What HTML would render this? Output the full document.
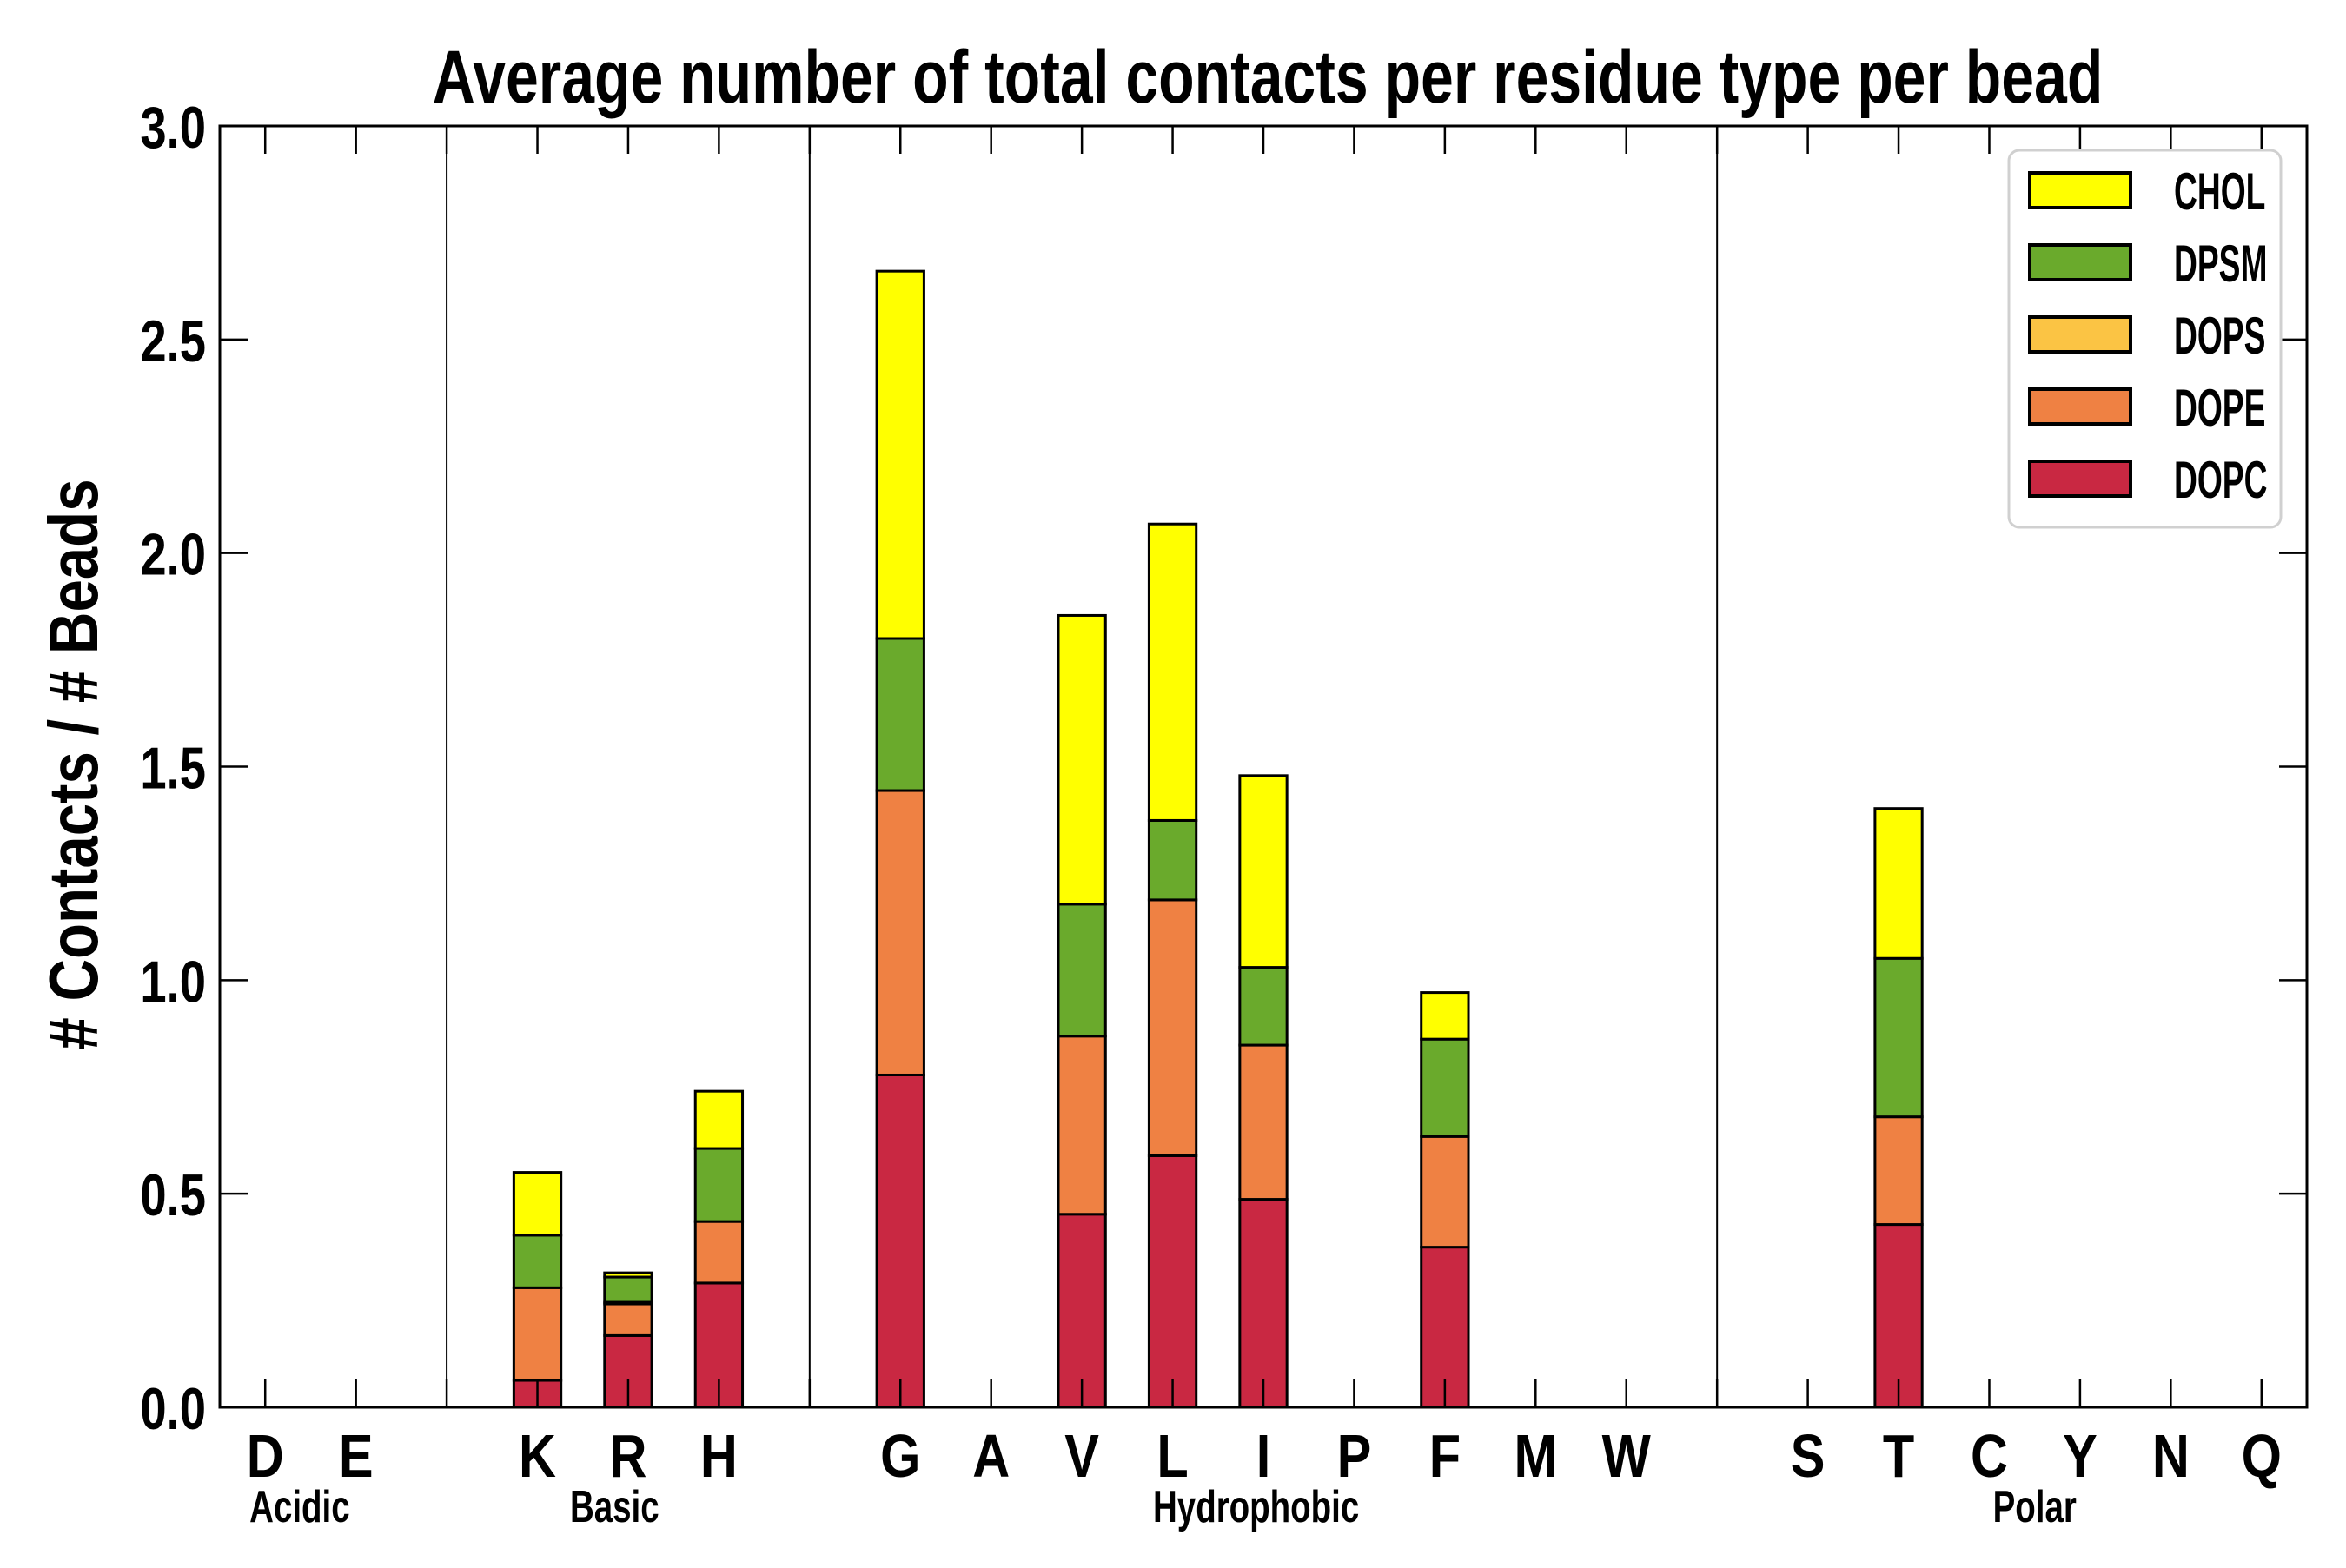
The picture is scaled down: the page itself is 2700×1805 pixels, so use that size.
<!DOCTYPE html>
<html><head><meta charset="utf-8"><style>
html,body{margin:0;padding:0;background:#fff;}
svg text{font-family:"Liberation Sans Narrow","Liberation Sans",sans-serif;font-weight:bold;fill:#000;}
</style></head><body>
<svg id="chart" width="2700" height="1800" viewBox="0 0 2700 1800" xmlns="http://www.w3.org/2000/svg">
<rect x="0" y="0" width="2700" height="1800" fill="#fff"/>
<text transform="translate(1459,118) scale(0.79,1)" font-size="86" text-anchor="middle">Average number of total contacts per residue type per bead</text>
<text transform="translate(112,880) rotate(-90) scale(0.84,1)" font-size="80" text-anchor="middle"># Contacts / # Beads</text>
<g id="plot"></g>
</svg>
<script>
const categories = ["D","E","","K","R","H","","G","A","V","L","I","P","F","M","W","","S","T","C","Y","N","Q"];
const separators = [2,6,16];
const seriesNames = ["DOPC","DOPE","DOPS","DPSM","CHOL"];
const DOPC = [0,0,0,0.063,0.168,0.291,0,0.778,0,0.452,0.589,0.487,0,0.375,0,0,0,0,0.428,0,0,0,0];
const DOPE = [0,0,0,0.217,0.074,0.144,0,0.666,0,0.417,0.599,0.361,0,0.259,0,0,0,0,0.252,0,0,0,0];
const DOPS = [0,0,0,0,0.004,0,0,0,0,0,0,0,0,0,0,0,0,0,0,0,0,0,0];
const DPSM = [0,0,0,0.123,0.059,0.171,0,0.356,0,0.309,0.186,0.182,0,0.228,0,0,0,0,0.371,0,0,0,0];
const CHOL = [0,0,0,0.147,0.010,0.134,0,0.860,0,0.676,0.694,0.449,0,0.109,0,0,0,0,0.351,0,0,0,0];
const yTicks = [0,0.5,1.0,1.5,2.0,2.5,3.0];
const yTickLabels = ["0.0","0.5","1.0","1.5","2.0","2.5","3.0"];
const groupNames = ["Acidic","Basic","Hydrophobic","Polar"];
const groupCenters = [0.38,3.85,10.92,19.5];
const colors = {DOPC:"#c92842",DOPE:"#ef8143",DOPS:"#fbc444",DPSM:"#6aaa2c",CHOL:"#ffff00"};
const seriesData = {DOPC,DOPE,DOPS,DPSM,CHOL};

const L=253,R=2655,T=145,B=1620;
const n=categories.length;
const slot=(R-L)/n;
function xs(i){return L+slot*(i+0.5);}
function ys(v){return B-(v/3)*(B-T);}
const NS="http://www.w3.org/2000/svg";
const g=document.getElementById('plot');
function mk(tag,attrs,parent){const e=document.createElementNS(NS,tag);for(const k in attrs)e.setAttribute(k,attrs[k]);(parent||g).appendChild(e);return e;}
function txt(x,y,s,size,anchor,sx,parent){return mk('text',{transform:'translate('+x+','+y+') scale('+sx+',1)','font-size':size,'text-anchor':anchor},parent);}

separators.forEach(i=>{
  const l=mk('line',{x1:xs(i),x2:xs(i),y1:T,y2:B,stroke:'#000','stroke-width':2});
  
  
});
const bw=slot*0.52;
for(let i=0;i<n;i++){
  let base=0;
  seriesNames.forEach(s=>{
    const v=seriesData[s][i];
    if(v<=0) return;
    const r=mk('rect',{x:xs(i)-bw/2,y:ys(base+v),width:bw,height:ys(base)-ys(base+v),fill:colors[s],stroke:'#000','stroke-width':3});
    
    
    base+=v;
  });
  if(base===0){
    const z=mk('line',{x1:xs(i)-bw/2,x2:xs(i)+bw/2,y1:B-1,y2:B-1,stroke:'#000','stroke-width':2});
    
    
  }
}
const fr=mk('rect',{x:L,y:T,width:R-L,height:B-T,fill:'none',stroke:'#000','stroke-width':3});


yTicks.forEach((v,k)=>{
  const y=ys(v);
  mk('line',{x1:L,x2:L+32,y1:y,y2:y,stroke:'#000','stroke-width':2.5});
  mk('line',{x1:R,x2:R-32,y1:y,y2:y,stroke:'#000','stroke-width':2.5});
  const t=txt(237,y+25,yTickLabels[k],68,'end',0.8);
  t.textContent=yTickLabels[k];
  
  
});
for(let i=0;i<n;i++){
  const x=xs(i);
  mk('line',{x1:x,x2:x,y1:T,y2:T+32,stroke:'#000','stroke-width':2.5});
  mk('line',{x1:x,x2:x,y1:B,y2:B-32,stroke:'#000','stroke-width':2.5});
  if(categories[i]){
    const t=txt(x,1700,categories[i],70,'middle',0.85);
    t.textContent=categories[i];
    
    
  }
}
groupNames.forEach((nm,k)=>{
  const t=txt(xs(groupCenters[k]),1752,nm,52,'middle',0.74);
  t.textContent=nm;
  
  
});
const lg=mk('g',{});


mk('rect',{x:2312,y:173,width:313,height:434,rx:12,fill:'#fff',stroke:'#d0d0d0','stroke-width':3},lg);
const legendOrder=["CHOL","DPSM","DOPS","DOPE","DOPC"];
legendOrder.forEach((s,k)=>{
  const cy=219+k*83;
  const sw=mk('rect',{x:2336,y:cy-20,width:116,height:40,fill:colors[s],stroke:'#000','stroke-width':4},lg);
  
  
  const t=txt(2502,cy+22,s,60,'start',0.62,lg);
  t.textContent=s;
  
  
});
</script>
</body></html>
